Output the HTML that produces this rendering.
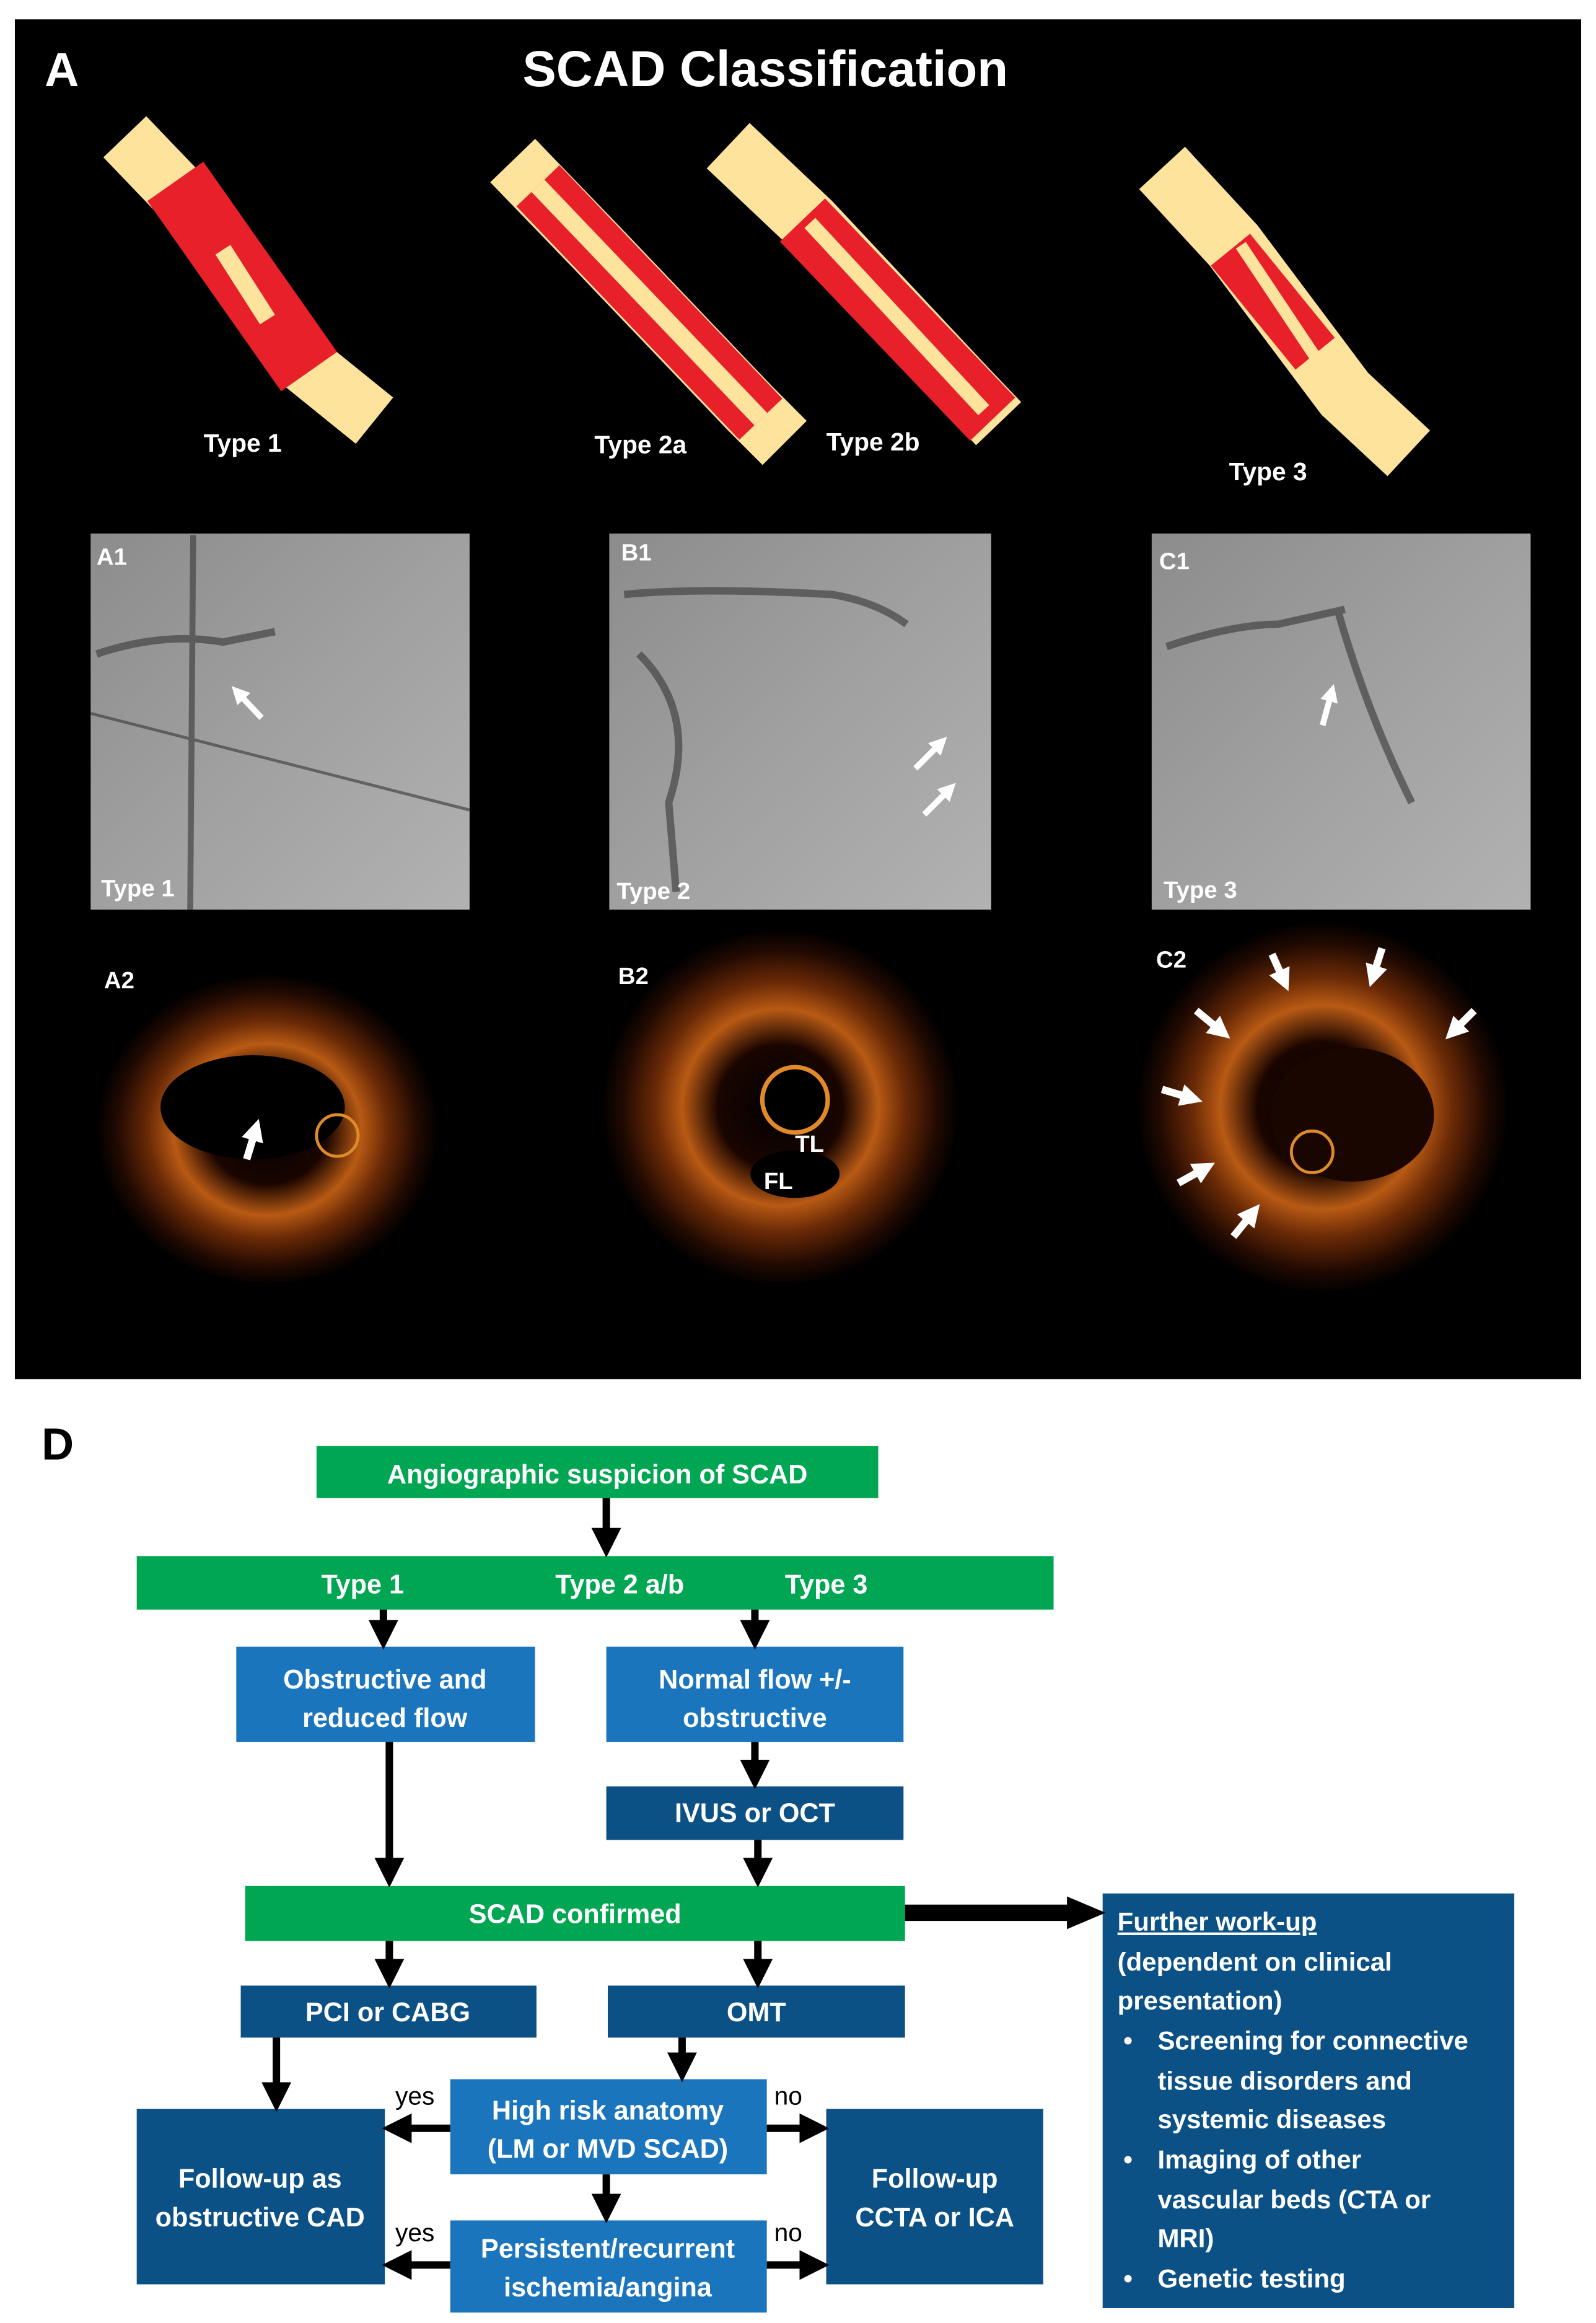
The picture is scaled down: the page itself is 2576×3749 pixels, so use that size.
<!DOCTYPE html>
<html><head><meta charset="utf-8"><style>
html,body{margin:0;padding:0;background:#fff}
svg{display:block}
text{font-family:"Liberation Sans",sans-serif}
</style></head><body>
<svg width="2576" height="3749" viewBox="0 0 1074 1563" xmlns="http://www.w3.org/2000/svg">
<defs>
<radialGradient id="oct" cx="50%" cy="50%" r="50%">
<stop offset="0" stop-color="#000"/><stop offset="0.35" stop-color="#1a0500"/><stop offset="0.55" stop-color="#b85a14"/><stop offset="0.7" stop-color="#6a2a06"/><stop offset="0.88" stop-color="#220a02"/><stop offset="1" stop-color="#000"/>
</radialGradient>
<linearGradient id="ang" x1="0" y1="0" x2="1" y2="1">
<stop offset="0" stop-color="#8c8c8c"/><stop offset="0.5" stop-color="#a0a0a0"/><stop offset="1" stop-color="#b2b2b2"/>
</linearGradient>
<marker id="ah" markerWidth="4" markerHeight="4" refX="2" refY="2" orient="auto" markerUnits="strokeWidth"><path d="M0,0 L4,2 L0,4 Z" fill="#000"/></marker>
<marker id="wh" markerWidth="3" markerHeight="3" refX="1.5" refY="1.5" orient="auto" markerUnits="strokeWidth"><path d="M0,0 L3,1.5 L0,3 Z" fill="#fff"/></marker>
</defs>
<rect x="10" y="13" width="1054" height="915" fill="#000"/>
<text x="30" y="58" fill="#fff" font-size="32" font-weight="bold">A</text>
<text x="515" y="58" fill="#fff" font-size="34" font-weight="bold" text-anchor="middle">SCAD Classification</text>
<g stroke-linecap="butt" fill="none">
<polyline points="84,92 130,140 205,245 252,283" stroke="#fde39c" stroke-width="40"/>
<line x1="118" y1="122" x2="208" y2="250" stroke="#e8202a" stroke-width="46"/>
<line x1="150" y1="168" x2="180" y2="215" stroke="#fde39c" stroke-width="12"/>
<polyline points="345,108 400,165 505,275 528,298" stroke="#fde39c" stroke-width="42"/>
<line x1="362" y1="125" x2="512" y2="282" stroke="#e8202a" stroke-width="40"/>
<line x1="362" y1="125" x2="512" y2="282" stroke="#fde39c" stroke-width="12"/>
<polyline points="490,98 545,150 650,262 672,285" stroke="#fde39c" stroke-width="42"/>
<line x1="540" y1="148" x2="668" y2="282" stroke="#e8202a" stroke-width="42"/>
<line x1="545" y1="150" x2="662" y2="276" stroke="#fde39c" stroke-width="10"/>
<polyline points="782,113 830,165 905,265 948,305" stroke="#fde39c" stroke-width="42"/>
<line x1="828" y1="168" x2="885" y2="238" stroke="#e8202a" stroke-width="34"/>
<line x1="835" y1="165" x2="885" y2="240" stroke="#fde39c" stroke-width="8"/>
</g>
<g fill="#fff" font-size="17" font-weight="bold">
<text x="137" y="304">Type 1</text><text x="400" y="305">Type 2a</text><text x="556" y="303">Type 2b</text><text x="827" y="323">Type 3</text>
</g>
<rect x="61" y="359" width="255" height="253" fill="url(#ang)"/>
<rect x="410" y="359" width="257" height="253" fill="url(#ang)"/>
<rect x="775" y="359" width="255" height="253" fill="url(#ang)"/>
<g stroke="#444" fill="none" stroke-width="5" opacity="0.7">
<path d="M65,440 Q110,425 150,432 L185,425"/><path d="M61,480 L316,545" stroke-width="2"/><path d="M130,360 L128,612" stroke-width="4"/>
<path d="M420,400 Q470,395 560,400 Q590,405 610,420"/><path d="M430,440 Q470,480 450,540 L455,600"/>
<path d="M785,435 Q830,420 860,420 L905,410"/><path d="M900,410 Q920,480 950,540"/>
</g>
<g stroke="#fff" stroke-width="4" marker-end="url(#wh)">
<line x1="176" y1="483" x2="160" y2="466"/><line x1="616" y1="517" x2="633" y2="500"/><line x1="622" y1="548" x2="639" y2="531"/><line x1="890" y1="488" x2="896" y2="466"/>
</g>
<g fill="#fff" font-size="16" font-weight="bold">
<text x="65" y="380">A1</text><text x="418" y="377">B1</text><text x="780" y="383">C1</text>
<text x="68" y="603">Type 1</text><text x="415" y="605">Type 2</text><text x="783" y="604">Type 3</text>
</g>
<ellipse cx="180" cy="760" rx="115" ry="105" fill="url(#oct)"/>
<ellipse cx="170" cy="745" rx="62" ry="35" fill="#000"/>
<circle cx="227" cy="764" r="14" fill="none" stroke="#e08a2a" stroke-width="2"/>
<circle cx="525" cy="745" r="120" fill="url(#oct)"/>
<circle cx="535" cy="740" r="22" fill="#000" stroke="#e08a2a" stroke-width="3"/>
<ellipse cx="535" cy="790" rx="30" ry="16" fill="#000"/>
<circle cx="890" cy="745" r="125" fill="url(#oct)"/>
<ellipse cx="910" cy="750" rx="55" ry="45" fill="#1a0600"/>
<circle cx="883" cy="775" r="14" fill="none" stroke="#e08a2a" stroke-width="2"/>
<g stroke="#fff" stroke-width="5" marker-end="url(#wh)">
<line x1="166" y1="780" x2="172" y2="760"/>
<line x1="856" y1="642" x2="864" y2="660"/><line x1="930" y1="638" x2="924" y2="657"/><line x1="992" y1="680" x2="978" y2="694"/>
<line x1="805" y1="680" x2="822" y2="694"/><line x1="782" y1="733" x2="802" y2="739"/><line x1="793" y1="796" x2="811" y2="786"/><line x1="830" y1="832" x2="843" y2="816"/>
</g>
<g fill="#fff" font-size="16" font-weight="bold">
<text x="70" y="665">A2</text><text x="416" y="662">B2</text><text x="778" y="651">C2</text><text x="535" y="775">TL</text><text x="514" y="800">FL</text>
</g>
<text x="28" y="982" font-size="30" font-weight="bold" fill="#000">D</text>
<g fill="#00a651">
<rect x="213" y="973" width="378" height="35"/><rect x="92" y="1047" width="617" height="36"/><rect x="165" y="1269" width="444" height="37"/>
</g>
<g fill="#1b75bc">
<rect x="159" y="1108" width="201" height="64"/><rect x="408" y="1108" width="200" height="64"/><rect x="303" y="1399" width="213" height="64"/><rect x="303" y="1494" width="213" height="62"/>
</g>
<g fill="#0b5185">
<rect x="408" y="1202" width="200" height="36"/><rect x="162" y="1336" width="199" height="35"/><rect x="409" y="1336" width="200" height="35"/>
<rect x="92" y="1419" width="167" height="118"/><rect x="556" y="1419" width="146" height="118"/><rect x="742" y="1274" width="277" height="279"/>
</g>
<g stroke="#000" stroke-width="5" marker-end="url(#ah)">
<line x1="408" y1="1008" x2="408" y2="1038"/>
<line x1="258" y1="1083" x2="258" y2="1100"/><line x1="508" y1="1083" x2="508" y2="1100"/>
<line x1="262" y1="1172" x2="262" y2="1260"/><line x1="508" y1="1172" x2="508" y2="1194"/><line x1="510" y1="1238" x2="510" y2="1260"/>
<line x1="262" y1="1306" x2="262" y2="1328"/><line x1="510" y1="1306" x2="510" y2="1328"/>
<line x1="186" y1="1371" x2="186" y2="1411"/><line x1="459" y1="1371" x2="459" y2="1391"/>
<line x1="408" y1="1463" x2="408" y2="1486"/>
<line x1="303" y1="1432" x2="267" y2="1432"/><line x1="516" y1="1432" x2="548" y2="1432"/>
<line x1="303" y1="1524" x2="267" y2="1524"/><line x1="516" y1="1524" x2="548" y2="1524"/>
</g>
<line x1="609" y1="1287" x2="720" y2="1287" stroke="#000" stroke-width="11"/>
<path d="M718,1276 L744,1287 L718,1298 Z" fill="#000"/>
<g fill="#fff" font-size="18" font-weight="bold" text-anchor="middle">
<text x="402" y="998">Angiographic suspicion of SCAD</text>
<text x="244" y="1072">Type 1</text><text x="417" y="1072">Type 2 a/b</text><text x="556" y="1072">Type 3</text>
<text x="259" y="1136">Obstructive and</text><text x="259" y="1162">reduced flow</text>
<text x="508" y="1136">Normal flow +/-</text><text x="508" y="1162">obstructive</text>
<text x="508" y="1226">IVUS or OCT</text>
<text x="387" y="1294">SCAD confirmed</text>
<text x="261" y="1360">PCI or CABG</text><text x="509" y="1360">OMT</text>
<text x="409" y="1426">High risk anatomy</text><text x="409" y="1452">(LM or MVD SCAD)</text>
<text x="409" y="1519">Persistent/recurrent</text><text x="409" y="1545">ischemia/angina</text>
<text x="175" y="1472">Follow-up as</text><text x="175" y="1498">obstructive CAD</text>
<text x="629" y="1472">Follow-up</text><text x="629" y="1498">CCTA or ICA</text>
</g>
<g fill="#000" font-size="17">
<text x="266" y="1416">yes</text><text x="521" y="1416">no</text><text x="266" y="1508">yes</text><text x="521" y="1508">no</text>
</g>
<g fill="#fff" font-size="17.5" font-weight="bold">
<text x="752" y="1299" text-decoration="underline">Further work-up</text>
<text x="752" y="1326">(dependent on clinical</text>
<text x="752" y="1352">presentation)</text>
<text x="756" y="1379">•</text><text x="779" y="1379">Screening for connective</text>
<text x="779" y="1406">tissue disorders and</text>
<text x="779" y="1432">systemic diseases</text>
<text x="756" y="1459">•</text><text x="779" y="1459">Imaging of other</text>
<text x="779" y="1486">vascular beds (CTA or</text>
<text x="779" y="1512">MRI)</text>
<text x="756" y="1539">•</text><text x="779" y="1539">Genetic testing</text>
</g>
</svg>
</body></html>
